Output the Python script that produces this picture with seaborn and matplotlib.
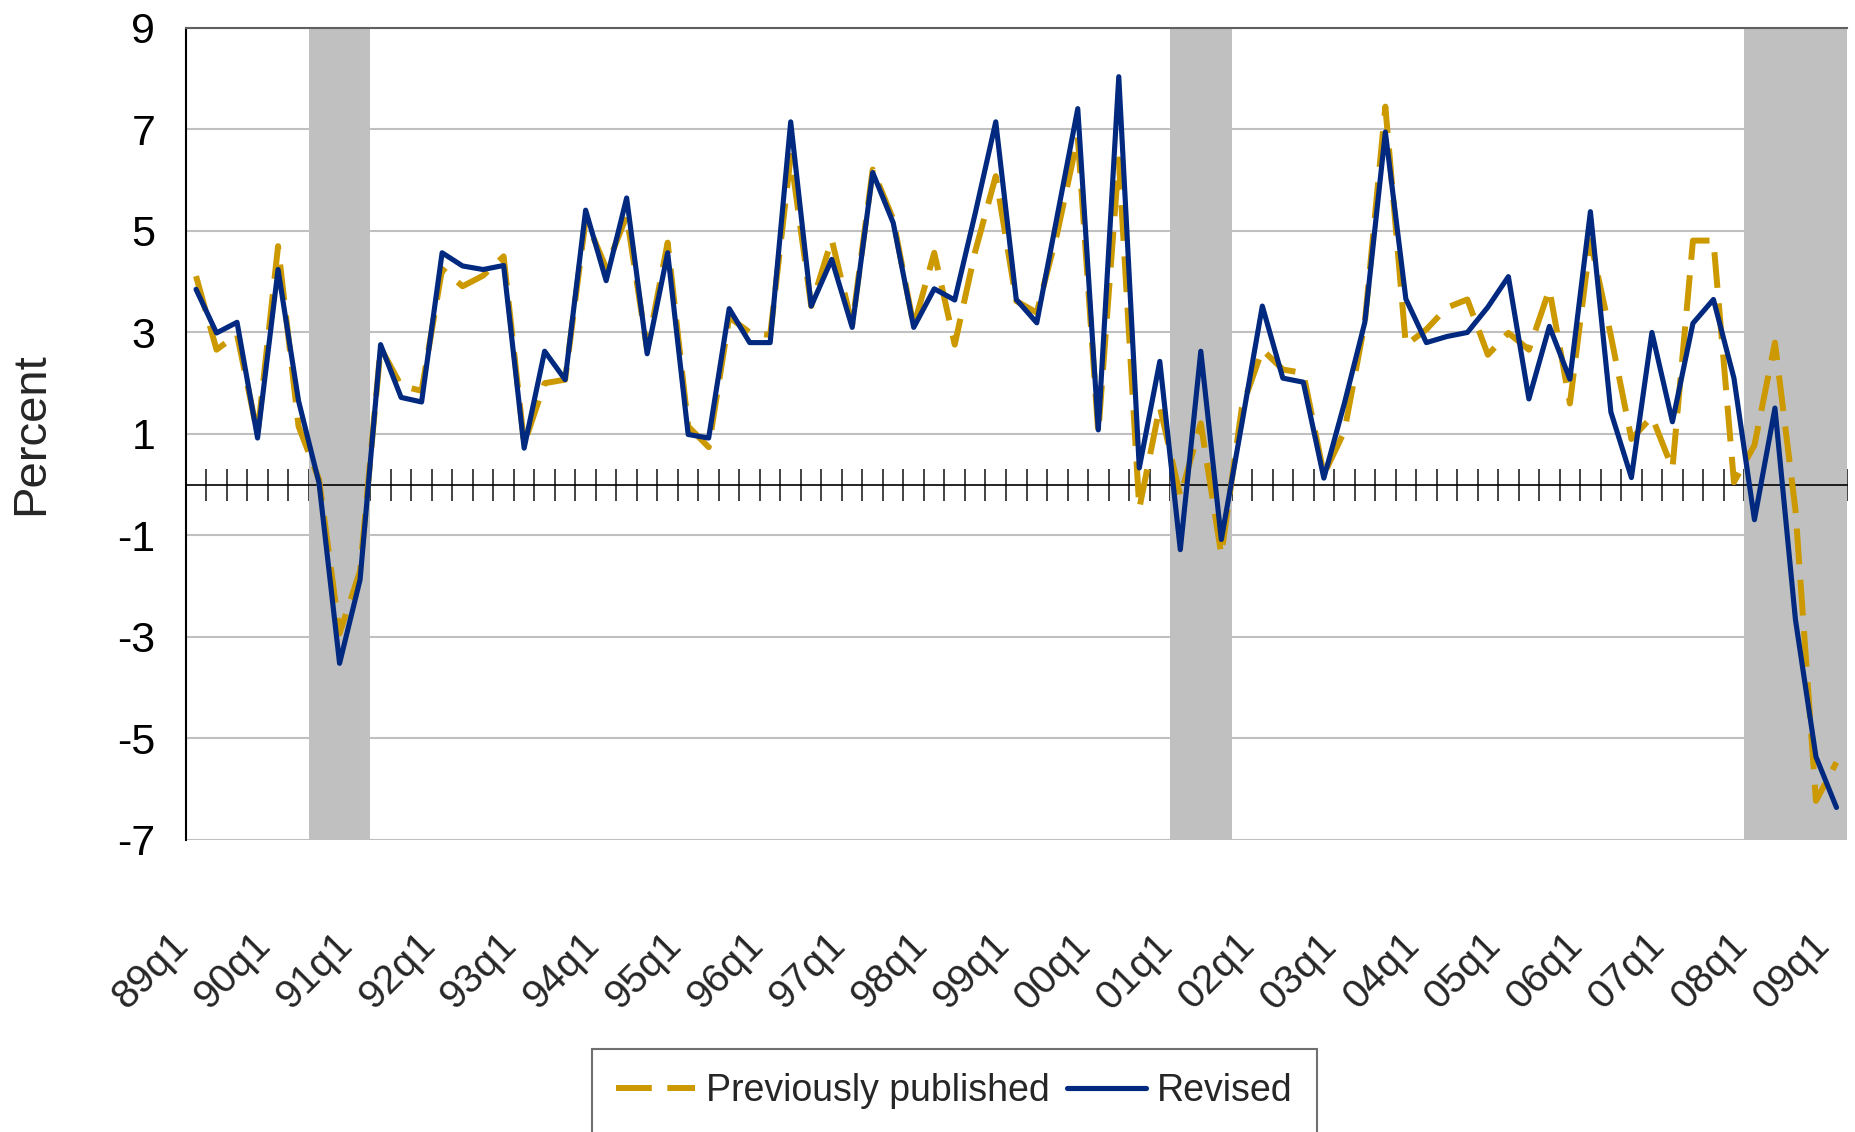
import numpy as np
import pandas as pd
import seaborn as sns
import matplotlib.pyplot as plt

# quarterly categories 89q1 .. 09q1
years = ['89', '90', '91', '92', '93', '94', '95', '96', '97', '98', '99',
         '00', '01', '02', '03', '04', '05', '06', '07', '08', '09']
quarters = [f'{y}q{q}' for y in years for q in range(1, 5)][:81]
tick_labels = ['89q1', '90q1', '91q1', '92q1', '93q1', '94q1', '95q1', '96q1',
               '97q1', '98q1', '99q1', '00q1', '01q1', '02q1', '03q1', '04q1',
               '05q1', '06q1', '07q1', '08q1', '09q1']

previously_published = [
    4.11, 2.66, 2.96, 1.00, 4.70, 1.15, 0.10, -2.93, -1.70, 2.70,
    1.95, 1.85, 4.25, 3.91, 4.12, 4.50, 0.80, 2.00, 2.07, 5.23,
    4.27, 5.30, 2.66, 4.77, 1.15, 0.74, 3.30, 3.00, 2.95, 6.48,
    3.52, 4.83, 3.15, 6.21, 5.23, 3.12, 4.57, 2.76, 4.60, 6.08,
    3.62, 3.39, 4.96, 6.85, 1.02, 6.41, -0.47, 1.54, -0.23, 1.21,
    -1.38, 1.51, 2.66, 2.27, 2.20, 0.20, 1.05, 3.20, 7.45, 2.75,
    3.06, 3.49, 3.65, 2.56, 2.99, 2.66, 3.85, 1.60, 4.81, 2.93,
    0.90, 1.34, 0.32, 4.81, 4.81, 0.05, 0.78, 2.80, -0.50, -6.23,
    -5.47,
]
revised = [
    3.85, 2.99, 3.20, 0.92, 4.24, 1.65, 0.03, -3.52, -1.87, 2.76,
    1.72, 1.63, 4.57, 4.31, 4.24, 4.32, 0.72, 2.63, 2.07, 5.41,
    4.02, 5.65, 2.58, 4.57, 0.99, 0.92, 3.47, 2.80, 2.80, 7.15,
    3.52, 4.44, 3.10, 6.15, 5.16, 3.10, 3.86, 3.64, 5.35, 7.15,
    3.65, 3.19, 5.30, 7.41, 1.08, 8.04, 0.33, 2.43, -1.28, 2.63,
    -1.08, 1.20, 3.52, 2.10, 2.02, 0.13, 1.60, 3.20, 6.95, 3.66,
    2.80, 2.92, 3.00, 3.50, 4.10, 1.69, 3.12, 2.08, 5.38, 1.43,
    0.14, 3.00, 1.24, 3.18, 3.65, 2.10, -0.69, 1.51, -2.66, -5.36,
    -6.36,
]
recessions = [('90q3', '91q1'), ('01q1', '01q3'), ('08q1', '09q1')]

df = pd.DataFrame({
    'quarter': quarters,
    'pos': np.arange(len(quarters)),
    'Previously published': previously_published,
    'Revised': revised,
})

sns.set_style('white')
plt.rcParams['font.family'] = ['Liberation Sans', 'DejaVu Sans']
plt.rcParams['axes.unicode_minus'] = False

fig = plt.figure(figsize=(18.56, 11.32), dpi=100)
ax = fig.add_axes([0.1001, 0.2580, 0.8949, 0.7173])

for start, end in recessions:
    ax.axvspan(quarters.index(start) - 0.5, quarters.index(end) + 0.5,
               color='#C0C0C0', lw=0, zorder=1)

sns.lineplot(data=df, x='pos', y='Previously published', ax=ax, color='#CC9900',
             linewidth=4.3, linestyle=(0, (6, 2.6)), label='Previously published',
             errorbar=None, zorder=3)
sns.lineplot(data=df, x='pos', y='Revised', ax=ax, color='#00297F',
             linewidth=3.7, label='Revised', errorbar=None, zorder=4)

ax.set_xlim(-0.5, len(quarters) - 0.5)
ax.set_ylim(-7, 9)
ax.set_yticks(np.arange(-7, 10, 2))
ax.yaxis.grid(True, color='#C0C0C0', linewidth=1.5)
ax.xaxis.grid(False)
ax.set_axisbelow(True)
ax.tick_params(axis='y', length=0, pad=22, labelsize=31, colors='black')

ax.spines['right'].set_visible(False)
ax.spines['top'].set_color('#606060')
ax.spines['top'].set_linewidth(1.5)
ax.spines['left'].set_color('black')
ax.spines['left'].set_linewidth(1.5)
ax.spines['bottom'].set_position(('data', 0))
ax.spines['bottom'].set_color('black')
ax.spines['bottom'].set_linewidth(1.2)

# tick marks between categories, crossing the zero line
ax.set_xticks([])
ax.set_xticks(np.arange(0.5, len(quarters), 1), minor=True)
ax.tick_params(axis='x', which='minor', direction='inout', length=23, width=1.2,
               color='#222222', bottom=True, labelbottom=False)
ax.set_xlabel('')

# quarter labels at the bottom of the plot area
sec = ax.secondary_xaxis('bottom')
sec.set_xticks([quarters.index(t) for t in tick_labels], tick_labels)
sec.tick_params(length=0, pad=62, labelsize=29)
sec.spines['bottom'].set_visible(False)
for lbl in sec.get_xticklabels():
    lbl.set_rotation(45)
    lbl.set_ha('right')
    lbl.set_va('top')

ax.set_ylabel('Percent', fontsize=34)
ax.yaxis.set_label_coords(-0.08, 0.5)

handles, labels = ax.get_legend_handles_labels()
ax.get_legend().remove()
leg = fig.legend(handles, labels, loc='upper left', bbox_to_anchor=(0.319, 0.0733),
                 ncol=2, fontsize=27, frameon=True, fancybox=False, framealpha=1,
                 edgecolor='#707070', borderaxespad=0, borderpad=0.65,
                 handlelength=2.1, handletextpad=0.3, columnspacing=0.45)
leg.get_frame().set_linewidth(1.5)

fig.savefig('out.png', dpi=100)
